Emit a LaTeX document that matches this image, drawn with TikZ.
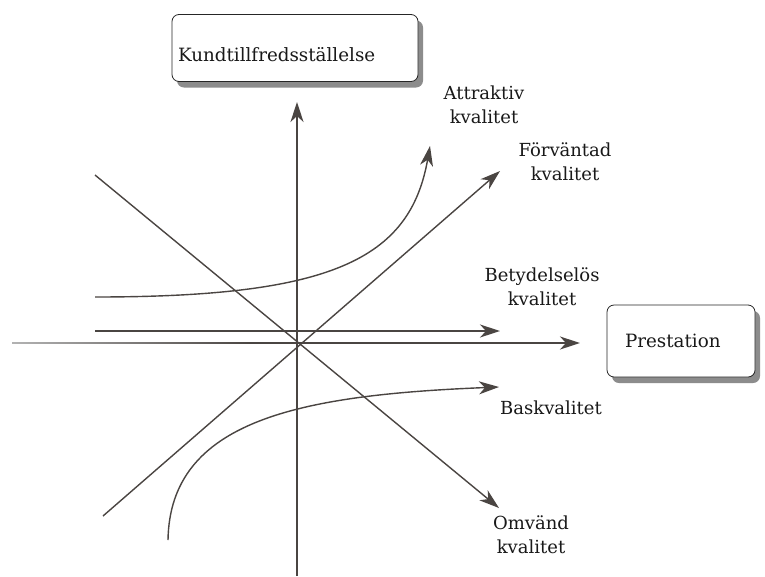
\documentclass[tikz,border=0pt]{standalone}
\usepackage{fontspec}
\setmainfont{DejaVu Serif}
\usetikzlibrary{arrows.meta,shadows}
\definecolor{lc}{HTML}{4A4542}
\begin{document}
\begin{tikzpicture}[x=1pt,y=-1pt,
  lbl/.style={font=\fontsize{18}{24}\selectfont, align=center, inner sep=0pt, text=black!90},
  box/.style={draw=black!85, rounded corners=7pt, fill=white, line width=0.8pt, align=left, text=black!90,
    drop shadow={shadow xshift=5pt, shadow yshift=-6pt, fill=black!45, opacity=1}},
  ln/.style={draw=lc, line width=1.4pt},
  arr/.style={ln, -{Stealth[length=20pt,width=13pt,inset=6pt]}}]
\useasboundingbox (0,0) rectangle (765,576);
\fill[white] (0,0) rectangle (765,576);
% boxes
\node[box, minimum width=246pt, minimum height=67pt, inner xsep=6pt, text width=234pt,
  text height=30pt, text depth=4pt, font=\fontsize{18.3}{22}\selectfont] (ks) at (295,48) {Kundtillfredsst\"allelse};
\node[box, minimum width=148pt, minimum height=72pt, inner xsep=18pt, text width=112pt,
  font=\fontsize{18.3}{22}\selectfont] (pr) at (681,341) {Prestation};
% labels
\node[lbl] (att) at (484,105) {Attraktiv\\kvalitet};
\node[lbl] (for) at (565,162) {F\"orv\"antad\\kvalitet};
\node[lbl] (bet) at (542,287) {Betydelsel\"os\\kvalitet};
\node[lbl] (bas) at (551,408) {Baskvalitet};
\node[lbl] (omv) at (531,535) {Omv\"and\\kvalitet};
% coordinates
\coordinate (O) at (297,343);
\coordinate (ytop) at (297,102);
\coordinate (ybot) at (297,576);
\coordinate (xl) at (12,343);
\coordinate (xm) at (250,343);
\coordinate (xr) at (580,343);
\coordinate (ul) at (95,175);
\coordinate (ur) at (499,508);
\coordinate (ll) at (103,516);
\coordinate (lr) at (500,171);
\coordinate (bl) at (95,331);
\coordinate (br) at (500,331);
\coordinate (al) at (95,297);
\coordinate (ar) at (430,146);
\coordinate (sl) at (168,540);
\coordinate (sr) at (499,387);
% axes
\shade[left color=black!30, right color=lc] ([yshift=-0.9pt]xl) rectangle ([yshift=0.9pt]xm);
\draw[arr, line width=1.8pt] (xm) -- (xr);
\draw[arr, line width=1.8pt] (ybot) -- (ytop);
% diagonal and other arrows
\draw[arr] (ul) -- (ur);
\draw[arr] (ll) -- (lr);
\draw[arr] (bl) -- (br);
\draw[arr] (al) .. controls (330,297) and (410,260) .. (ar);
\draw[arr] (sl) .. controls (170,420) and (300,395) .. (sr);
\end{tikzpicture}
\end{document}
